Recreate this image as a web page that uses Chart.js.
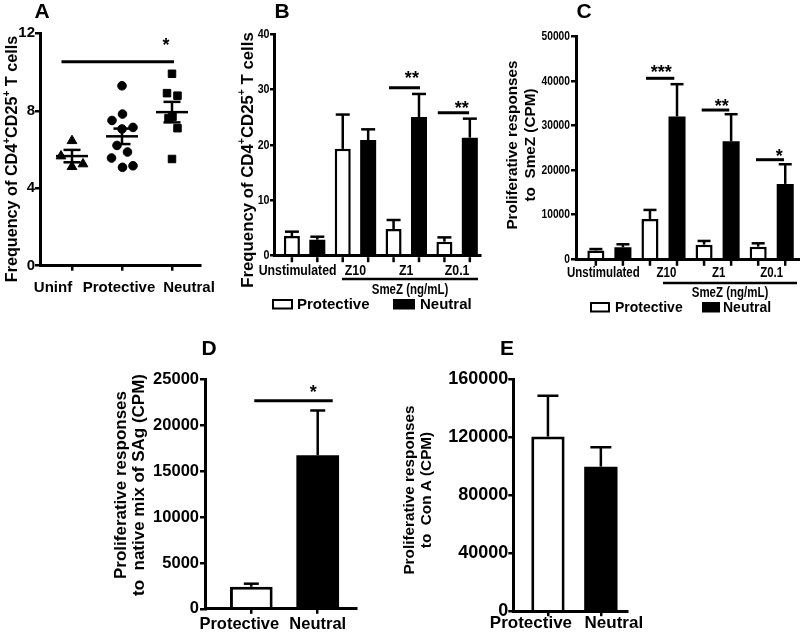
<!DOCTYPE html>
<html><head><meta charset="utf-8">
<script src="https://cdn.jsdelivr.net/npm/chart.js@4.4.1/dist/chart.umd.min.js"></script>
<style>
html,body{margin:0;padding:0;background:#fff;}
body{width:800px;height:633px;position:relative;overflow:hidden;}
canvas{position:absolute;}
</style></head><body>
<canvas id="cA"></canvas><canvas id="cB"></canvas><canvas id="cC"></canvas><canvas id="cD"></canvas><canvas id="cE"></canvas>
<script>
// ---------------- DATA ----------------
const aCategories = ['Uninf', 'Protective', 'Neutral'];
const aUninfY = [6.45, 5.66, 5.11, 5.25];
const aUninfX = [1.0, 0.78, 1.0, 1.22];
const aProtY = [9.29, 7.50, 7.83, 7.06, 7.14, 6.21, 5.87, 5.56, 5.08, 5.16];
const aProtX = [2.0, 1.8, 2.01, 2.0, 2.22, 1.9, 2.11, 1.79, 2.01, 2.22];
const aNeutY = [9.91, 8.91, 8.78, 7.62, 7.69, 7.10, 5.51];
const aNeutX = [3.0, 2.9, 3.11, 2.93, 3.01, 3.11, 3.0];
const aMean = [5.66, 6.68, 7.93];
const aSem = [0.32, 0.40, 0.53];

const smezCategories = ['Unstimulated', 'Z10', 'Z1', 'Z0.1'];
const bProt = [3.55, 19.3, 4.82, 2.53];
const bProtErr = [0.79, 6.2, 1.63, 0.78];
const bNeut = [2.89, 20.9, 25.06, 21.33];
const bNeutErr = [0.54, 1.93, 4.16, 3.43];

const cProt = [2000, 9060, 3290, 2840];
const cProtErr = [300, 2020, 830, 750];
const cNeut = [2700, 32040, 26500, 16920];
const cNeutErr = [670, 7260, 6060, 4410];

const groups = ['Protective', 'Neutral'];
const dValues = [2400, 16750];
const dErr = [340, 4890];
const eValues = [120350, 99600];
const eErr = [28120, 13370];

// significance annotations (data coordinates)
const sigA = [{x0: 0.79, x1: 3.04, y: 10.53, label: '*', lx: 2.88, dy: 15}];
const sigB = [{x0: 2.66, x1: 3.27, y: 30.35, label: '**', lx: 3.11, dy: 8},
              {x0: 3.62, x1: 4.236, y: 25.84, label: '**', lx: 4.09, dy: 8}];
const sigC = [{x0: 1.677, x1: 2.2, y: 40620, label: '***', lx: 1.96, dy: 5},
              {x0: 2.706, x1: 3.216, y: 33500, label: '**', lx: 3.076, dy: 8},
              {x0: 3.71, x1: 4.227, y: 22350, label: '*', lx: 4.14, dy: 7.5}];
const sigD = [{x0: 1.045, x1: 2.226, y: 22700, label: '*', lx: 1.934, dy: 7}];

// ---------------- STYLE / LAYOUT ----------------
const FAM = '"Liberation Sans", Arial, Helvetica, sans-serif';
Chart.defaults.font.family = FAM;
Chart.defaults.color = '#000';
const CONDENSE = 0.82;

const boxes = {
  A: {x: 0, y: 0, w: 245, h: 320}, B: {x: 238, y: 0, w: 262, h: 320}, C: {x: 500, y: 0, w: 300, h: 320},
  D: {x: 100, y: 330, w: 280, h: 303}, E: {x: 395, y: 330, w: 260, h: 303}
};
const areas = {
  A: {left: 40, top: 33.3, right: 200, bottom: 265.7}, B: {left: 274, top: 34.3, right: 480, bottom: 255.7},
  C: {left: 576, top: 36.5, right: 800, bottom: 259.3}, D: {left: 205, top: 379.7, right: 356.7, bottom: 608.8},
  E: {left: 513.3, top: 379, right: 627.3, bottom: 611.2}
};

function T(ctx, s, x, y, font, align, base) {
  ctx.font = font; ctx.textAlign = align || 'center'; ctx.textBaseline = base || 'middle';
  ctx.fillStyle = '#000'; ctx.fillText(s, x, y);
}
// condensed (narrow) bold text
function TN(ctx, s, x, y, size, align) {
  ctx.save(); ctx.translate(x, y); ctx.scale(CONDENSE, 1);
  T(ctx, s, 0, 0, 'bold ' + size + 'px ' + FAM, align); ctx.restore();
}
function L(ctx, x0, y0, x1, y1, w) {
  ctx.beginPath(); ctx.moveTo(x0, y0); ctx.lineTo(x1, y1);
  ctx.lineWidth = w || 2.5; ctx.strokeStyle = '#000'; ctx.lineCap = 'butt'; ctx.stroke();
}
function star(ctx, s, cx, cy, size) {
  ctx.font = 'bold ' + size + 'px ' + FAM;
  const m = ctx.measureText(s);
  ctx.textAlign = 'center'; ctx.textBaseline = 'alphabetic'; ctx.fillStyle = '#000';
  ctx.fillText(s, cx, cy - (m.actualBoundingBoxDescent - m.actualBoundingBoxAscent) / 2);
}
function sig(ctx, X, Y, list) {
  list.forEach(s => { const y = Y(s.y); L(ctx, X(s.x0), y, X(s.x1), y, 3); star(ctx, s.label, X(s.lx), y - s.dy, 18); });
}
function vtitle(ctx, lines, xs, cy, size) {
  lines.forEach((t, i) => { ctx.save(); ctx.translate(xs[i], cy); ctx.rotate(-Math.PI / 2); T(ctx, t, 0, 0, 'bold ' + size + 'px ' + FAM); ctx.restore(); });
}
function richV(ctx, segs, cx, cy, size) {
  ctx.save(); ctx.translate(cx, cy); ctx.rotate(-Math.PI / 2);
  let total = 0;
  const parts = segs.map(s => { const sz = s.sup ? size * 0.62 : size; ctx.font = 'bold ' + sz + 'px ' + FAM; const w = ctx.measureText(s.t).width; total += w; return {s, sz, w}; });
  let x = -total / 2;
  ctx.textAlign = 'left'; ctx.textBaseline = 'middle'; ctx.fillStyle = '#000';
  parts.forEach(p => { ctx.font = 'bold ' + p.sz + 'px ' + FAM; ctx.fillText(p.s.t, x, p.s.sup ? -size * 0.33 : 0); x += p.w; });
  ctx.restore();
}
function errBars(chart, ctx, Y, box, vals, errs, di, cw) {
  chart.getDatasetMeta(di).data.forEach((el, i) => {
    const x = el.x + box.x, yTop = el.y + box.y, yE = Y(vals[i] + errs[i]);
    L(ctx, x, yTop, x, yE, 2.5); L(ctx, x - cw / 2, yE, x + cw / 2, yE, 2.5);
  });
}
function barTicks(chart, ctx, box, area, dis) {
  dis.forEach(di => chart.getDatasetMeta(di).data.forEach(el => L(ctx, el.x + box.x, area.bottom + 1.5, el.x + box.x, area.bottom + 6.5, 2.5)));
}
// narrow y tick labels taken from the library's y scale ticks
function narrowYTicks(chart, ctx, Y, area, size, gap) {
  chart.scales.y.ticks.forEach(t => TN(ctx, String(t.value), area.left - gap, Y(t.value), size, 'right'));
}
function yAxis(min, max, step, font, tl, pad, show) {
  return {type: 'linear', min, max,
    ticks: {display: show !== false, stepSize: step, font, color: '#000', padding: pad, autoSkip: false, callback: v => String(v)},
    grid: {display: true, drawOnChartArea: false, drawTicks: true, tickLength: tl, lineWidth: 2.5, color: '#000', tickColor: '#000'},
    border: {display: true, width: 3, color: '#000', z: 1}};
}
function xAxis(min, max, ticksAt, tl) {
  return {type: 'linear', min, max, offset: false, ticks: {display: false},
    afterBuildTicks: s => { s.ticks = ticksAt.map(v => ({value: v})); },
    grid: {display: true, offset: false, drawOnChartArea: false, drawTicks: tl > 0, tickLength: tl || 0, lineWidth: 2.5, color: '#000', tickColor: '#000'},
    border: {display: true, width: 3, color: '#000', z: 1}};
}
function makeChart(key, cfg, drawFn) {
  const box = boxes[key], area = areas[key];
  const cv = document.getElementById('c' + key);
  cv.width = box.w; cv.height = box.h;
  Object.assign(cv.style, {left: box.x + 'px', top: box.y + 'px', width: box.w + 'px', height: box.h + 'px'});
  const xH = box.y + box.h - area.bottom, yW = area.left - box.x;
  cfg.options.responsive = false; cfg.options.animation = false; cfg.options.events = [];
  cfg.options.layout = {padding: {top: area.top - box.y, right: box.x + box.w - area.right, left: 0, bottom: 0}};
  cfg.options.plugins = {legend: {display: false}, tooltip: {enabled: false}};
  cfg.options.scales.x.afterFit = s => { s.height = xH; };
  cfg.options.scales.y.afterFit = s => { s.width = yW; };
  cfg.plugins = [{id: 'deco' + key, afterDraw(chart) {
    const ctx = chart.ctx; ctx.save(); ctx.translate(-box.x, -box.y);
    const X = v => chart.scales.x.getPixelForValue(v) + box.x;
    const Y = v => chart.scales.y.getPixelForValue(v) + box.y;
    drawFn(chart, ctx, X, Y, box, area); ctx.restore();
  }}];
  return new Chart(cv, cfg);
}
const pts = (xs, ys) => xs.map((x, i) => ({x, y: ys[i]}));
const barPts = vals => vals.map((v, i) => ({x: i + 1, y: v}));
const freqTitle = [{t: 'Frequency of CD4'}, {t: '+', sup: true}, {t: 'CD25'}, {t: '+', sup: true}, {t: ' T cells'}];

// ---------------- PANEL A ----------------
makeChart('A', {
  type: 'scatter',
  data: {datasets: [
    {data: pts(aUninfX, aUninfY), pointStyle: 'triangle', pointRadius: 5.6, pointHoverRadius: 5.6, backgroundColor: '#000', borderColor: '#000', borderWidth: 1},
    {data: pts(aProtX, aProtY), pointStyle: 'circle', pointRadius: 4.3, pointHoverRadius: 4.3, backgroundColor: '#000', borderColor: '#000', borderWidth: 1},
    {data: pts(aNeutX, aNeutY), pointStyle: 'rect', pointRadius: 5.3, pointHoverRadius: 5.3, backgroundColor: '#000', borderColor: '#000', borderWidth: 1}
  ]},
  options: {scales: {
    x: xAxis(0.36, 3.56, [1, 2, 3], 5),
    y: yAxis(0, 12, 4, {size: 15, weight: 'bold', family: FAM}, 5, 0)
  }}
}, (chart, ctx, X, Y) => {
  T(ctx, 'A', 42, 12, 'bold 21px ' + FAM);
  richV(ctx, freqTitle, 13, 159, 16.2);
  const dx = [-19, -3, 17];
  aCategories.forEach((c, i) => T(ctx, c, X(i + 1) + dx[i], 288, 'bold 15px ' + FAM));
  aMean.forEach((m, i) => {
    const x = X(i + 1), ym = Y(m), yl = Y(m - aSem[i]), yu = Y(m + aSem[i]);
    L(ctx, x - 16, ym, x + 16, ym, 2.5); L(ctx, x, yl, x, yu, 2.5);
    L(ctx, x - 8.5, yl, x + 8.5, yl, 2.5); L(ctx, x - 8.5, yu, x + 8.5, yu, 2.5);
  });
  sig(ctx, X, Y, sigA);
});

// ---------------- PANEL B ----------------
function groupedBars(p, n, bp, bw) {
  return [
    {label: groups[0], data: barPts(p), backgroundColor: '#fff', borderColor: '#000', borderWidth: bw, categoryPercentage: 1, barPercentage: bp},
    {label: groups[1], data: barPts(n), backgroundColor: '#000', borderColor: '#000', borderWidth: 0, categoryPercentage: 1, barPercentage: bp}
  ];
}
makeChart('B', {
  type: 'bar',
  data: {datasets: groupedBars(bProt, bNeut, 0.63, 2.5)},
  options: {scales: {
    x: xAxis(0.398, 4.45, [1, 2, 3, 4], 0),
    y: yAxis(0, 40, 10, {size: 12, weight: 'bold', family: FAM}, 4, 0, false)
  }}
}, (chart, ctx, X, Y, box, area) => {
  T(ctx, 'B', 282, 12, 'bold 21px ' + FAM);
  richV(ctx, freqTitle, 248, 160, 16.8);
  narrowYTicks(chart, ctx, Y, area, 13, 4.5);
  barTicks(chart, ctx, box, area, [0, 1]);
  errBars(chart, ctx, Y, box, bProt, bProtErr, 0, 14);
  errBars(chart, ctx, Y, box, bNeut, bNeutErr, 1, 14);
  const dx = [-7, 0, 0, 0];
  smezCategories.forEach((c, i) => TN(ctx, c, X(i + 1) + dx[i], 271, 15));
  L(ctx, 342, 279, 478, 279, 2.5);
  TN(ctx, 'SmeZ (ng/mL)', 410, 290, 14);
  ctx.lineWidth = 2; ctx.strokeStyle = '#000'; ctx.strokeRect(273, 300, 19, 8.5);
  T(ctx, 'Protective', 297, 305, 'bold 15px ' + FAM, 'left');
  ctx.fillStyle = '#000'; ctx.fillRect(393, 299, 22, 10.5);
  T(ctx, 'Neutral', 420, 305, 'bold 15px ' + FAM, 'left');
  sig(ctx, X, Y, sigB);
});

// ---------------- PANEL C ----------------
makeChart('C', {
  type: 'bar',
  data: {datasets: groupedBars(cProt, cNeut, 0.63, 2.5)},
  options: {scales: {
    x: xAxis(0.383, 4.523, [1, 2, 3, 4], 0),
    y: yAxis(0, 50000, 10000, {size: 12, weight: 'bold', family: FAM}, 5, 1, false)
  }}
}, (chart, ctx, X, Y, box, area) => {
  T(ctx, 'C', 584, 12, 'bold 21px ' + FAM);
  vtitle(ctx, ['Proliferative responses', 'to  SmeZ (CPM)'], [513, 531], 145, 15.3);
  narrowYTicks(chart, ctx, Y, area, 12.5, 6);
  barTicks(chart, ctx, box, area, [0, 1]);
  errBars(chart, ctx, Y, box, cProt, cProtErr, 0, 13);
  errBars(chart, ctx, Y, box, cNeut, cNeutErr, 1, 13);
  const dx = [-6, 3, 1, 0];
  smezCategories.forEach((c, i) => TN(ctx, c, X(i + 1) + dx[i], 273, 14));
  L(ctx, 663, 283, 797, 283, 2.5);
  TN(ctx, 'SmeZ (ng/mL)', 730, 293, 14);
  ctx.lineWidth = 2; ctx.strokeStyle = '#000'; ctx.strokeRect(591, 303, 18, 8.5);
  T(ctx, 'Protective', 615, 308, 'bold 14px ' + FAM, 'left');
  ctx.fillStyle = '#000'; ctx.fillRect(702, 302, 18, 10.5);
  T(ctx, 'Neutral', 723, 308, 'bold 14px ' + FAM, 'left');
  sig(ctx, X, Y, sigC);
});

// ---------------- PANEL D ----------------
makeChart('D', {
  type: 'bar',
  data: {datasets: [{data: barPts(dValues), backgroundColor: ['#fff', '#000'], borderColor: '#000', borderWidth: [3, 0], categoryPercentage: 1, barPercentage: 0.643}]},
  options: {scales: {
    x: xAxis(0.303, 2.587, [1, 2], 5),
    y: yAxis(0, 25000, 5000, {size: 16.5, weight: 'bold', family: FAM}, 5, 1)
  }}
}, (chart, ctx, X, Y, box) => {
  T(ctx, 'D', 209, 349, 'bold 21px ' + FAM);
  vtitle(ctx, ['Proliferative responses', 'to  native mix of SAg (CPM)'], [121, 139], 485, 17);
  errBars(chart, ctx, Y, box, dValues, dErr, 0, 15);
  const dx = [-12, 0];
  groups.forEach((g, i) => T(ctx, g, X(i + 1) + dx[i], 624, 'bold 16.5px ' + FAM));
  sig(ctx, X, Y, sigD);
});

// ---------------- PANEL E ----------------
makeChart('E', {
  type: 'bar',
  data: {datasets: [{data: barPts(eValues), backgroundColor: ['#fff', '#000'], borderColor: '#000', borderWidth: [3, 0], categoryPercentage: 1, barPercentage: 0.63}]},
  options: {scales: {
    x: xAxis(0.345, 2.5, [1, 2], 5),
    y: yAxis(0, 160000, 40000, {size: 18, weight: 'bold', family: FAM}, 5, 0)
  }}
}, (chart, ctx, X, Y, box) => {
  T(ctx, 'E', 507, 349, 'bold 21px ' + FAM);
  vtitle(ctx, ['Proliferative responses', 'to  Con A (CPM)'], [410, 427], 490, 15.3);
  errBars(chart, ctx, Y, box, eValues, eErr, 0, 21);
  const dx = [-17, 13];
  groups.forEach((g, i) => T(ctx, g, X(i + 1) + dx[i], 623, 'bold 17px ' + FAM));
});
</script>
</body></html>
